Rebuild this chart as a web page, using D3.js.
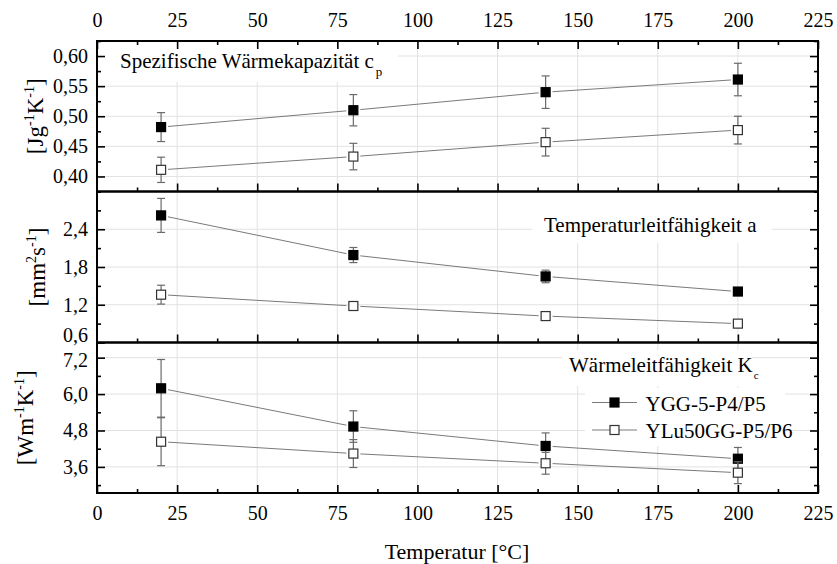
<!DOCTYPE html>
<html>
<head>
<meta charset="utf-8">
<script src="https://cdn.jsdelivr.net/npm/d3@7"></script>
<style>
  html, body { margin: 0; padding: 0; background: #fff; }
  svg { display: block; }
</style>
</head>
<body>
<svg id="chart" width="837" height="564"></svg>
<script>
// ---------------- data ----------------
const temperatures = [20, 80, 140, 200];
const seriesNames = ["YGG-5-P4/P5", "YLu50GG-P5/P6"];

const cpYGG = [0.482, 0.510, 0.540, 0.561];
const cpYGGErr = [0.024, 0.026, 0.027, 0.027];
const cpYLu = [0.411, 0.433, 0.457, 0.477];
const cpYLuErr = [0.021, 0.022, 0.023, 0.023];

const aYGG = [2.62, 1.99, 1.65, 1.41];
const aYGGErr = [0.27, 0.12, 0.10, 0.03];
const aYLu = [1.36, 1.18, 1.02, 0.90];
const aYLuErr = [0.15, 0.03, 0.03, 0.04];

const kYGG = [6.19, 4.93, 4.29, 3.87];
const kYGGErr = [0.95, 0.52, 0.43, 0.37];
const kYLu = [4.43, 4.04, 3.72, 3.41];
const kYLuErr = [0.79, 0.46, 0.36, 0.36];

const xTicks = [0, 25, 50, 75, 100, 125, 150, 175, 200, 225];
const cpTicks = [0.40, 0.45, 0.50, 0.55, 0.60];
const cpMinor = [0.375, 0.425, 0.475, 0.525, 0.575, 0.625];
const aTicks = [0.6, 1.2, 1.8, 2.4];
const aMinor = [0.9, 1.5, 2.1, 2.7, 3.0];
const kTicks = [3.6, 4.8, 6.0, 7.2];
const kMinor = [3.0, 4.2, 5.4, 6.6];

// ---------------- layout ----------------
const FONT = '"Liberation Serif"';
const svg = d3.select("#chart");
const left = 97, right = 818;
const panels = [
  { top: 41, bottom: 191.5, domain: [0.375, 0.625], ticks: cpTicks, minor: cpMinor, fmt: d3.format(".2f"),
    s1: cpYGG, e1: cpYGGErr, s2: cpYLu, e2: cpYLuErr, titleX: 43,
    title: [["[Jg", 0], ["-1", 1], ["K", 0], ["-1", 1], ["]", 0]] },
  { top: 191.5, bottom: 342.5, domain: [0.6, 3.0], ticks: aTicks, minor: aMinor, fmt: d3.format(".1f"),
    s1: aYGG, e1: aYGGErr, s2: aYLu, e2: aYLuErr, titleX: 45,
    title: [["[mm", 0], ["2", 1], ["s", 0], ["-1", 1], ["]", 0]] },
  { top: 342.5, bottom: 493, domain: [2.74, 7.7], ticks: kTicks, minor: kMinor, fmt: d3.format(".1f"),
    s1: kYGG, e1: kYGGErr, s2: kYLu, e2: kYLuErr, titleX: 33,
    title: [["[Wm", 0], ["-1", 1], ["K", 0], ["-1", 1], ["]", 0]] }
];

const x = d3.scaleLinear().domain([0, 225]).range([left, right]);
const comma = f => (d => f(d).replace(".", ","));

const gridColor = "#e2e2e2";
const lineColor = "#7a7a7a";
const errColor = "#6a6a6a";

// vertical grid
svg.append("g").selectAll("line").data(xTicks.filter(d => d > 0 && d < 225)).join("line")
  .attr("x1", d => x(d)).attr("x2", d => x(d))
  .attr("y1", panels[0].top).attr("y2", panels[2].bottom)
  .attr("stroke", gridColor).attr("stroke-width", 1);

panels.forEach(p => {
  p.y = d3.scaleLinear().domain(p.domain).range([p.bottom, p.top]);
  svg.append("g").selectAll("line").data(p.ticks.filter(d => p.y(d) > p.top + 1 && p.y(d) < p.bottom - 1)).join("line")
    .attr("x1", left).attr("x2", right)
    .attr("y1", d => p.y(d)).attr("y2", d => p.y(d))
    .attr("stroke", gridColor).attr("stroke-width", 1);
});

// white boxes behind annotations / legend
const boxes = [
  [98, 42, 300, 40],
  [532, 193, 240, 50],
  [562, 350, 190, 36],
  [585, 388, 200, 58]
];
svg.append("g").selectAll("rect").data(boxes).join("rect")
  .attr("x", d => d[0]).attr("y", d => d[1]).attr("width", d => d[2]).attr("height", d => d[3])
  .attr("fill", "#fff");

// axes
function styleAxis(g) {
  g.attr("font-family", null);
  g.select(".domain").remove();
  g.selectAll(".tick line").attr("stroke", "#000").attr("stroke-width", 1.6);
  g.selectAll(".tick text").attr("font-size", 20).attr("fill", "#000");
}

panels.forEach((p, i) => {
  const la = svg.append("g").attr("transform", `translate(${left},0)`)
    .call(d3.axisLeft(p.y).tickValues(p.ticks).tickSize(-8).tickPadding(9).tickFormat(comma(p.fmt)))
    .call(styleAxis);
  la.selectAll(".tick text").attr("dy", d => (i === 1 && d === 0.6) ? "-0.05em" : (i === 2 && d === 7.2 ? "0.42em" : "0.32em"));
  svg.append("g").attr("transform", `translate(${left},0)`)
    .call(d3.axisLeft(p.y).tickValues(p.minor).tickSize(-4).tickFormat(""))
    .call(styleAxis);
  svg.append("g").attr("transform", `translate(${right},0)`)
    .call(d3.axisRight(p.y).tickValues(p.ticks).tickSize(-8).tickFormat(""))
    .call(styleAxis);
  svg.append("g").attr("transform", `translate(${right},0)`)
    .call(d3.axisRight(p.y).tickValues(p.minor).tickSize(-4).tickFormat(""))
    .call(styleAxis);
  const majX = xTicks.filter(d => d > 0 && d < 225);
  const minX = d3.range(12.5, 225, 25);
  svg.append("g").attr("transform", `translate(0,${p.bottom})`)
    .call(d3.axisBottom(x).tickValues(i === 2 ? xTicks : majX).tickSize(-8).tickPadding(13)
      .tickFormat(i === 2 ? d3.format("d") : ""))
    .call(styleAxis);
  svg.append("g").attr("transform", `translate(0,${p.bottom})`)
    .call(d3.axisBottom(x).tickValues(minX).tickSize(-4).tickFormat(""))
    .call(styleAxis);
  if (i === 0) {
    svg.append("g").attr("transform", `translate(0,${p.top})`)
      .call(d3.axisTop(x).tickValues(xTicks).tickSize(-8).tickPadding(14).tickFormat(d3.format("d")))
      .call(styleAxis);
    svg.append("g").attr("transform", `translate(0,${p.top})`)
      .call(d3.axisTop(x).tickValues(minX).tickSize(-4).tickFormat(""))
      .call(styleAxis);
  }
  svg.append("rect").attr("x", left).attr("y", p.top).attr("width", right - left).attr("height", p.bottom - p.top)
    .attr("fill", "none").attr("stroke", "#000").attr("stroke-width", 2);

  const t = svg.append("text")
    .attr("transform", `translate(${p.titleX},${(p.top + p.bottom) / 2}) rotate(-90)`)
    .attr("text-anchor", "middle").attr("font-size", 23);
  let prevSup = 0;
  p.title.forEach(([str, sup]) => {
    const dy = sup === prevSup ? 0 : (sup ? -9 : 9);
    t.append("tspan").attr("dy", dy).attr("font-size", sup ? 14 : 23).text(str);
    prevSup = sup;
  });

  const drawSeries = (vals, errs, filled) => {
    const pts = temperatures.map((d, j) => [x(d), p.y(vals[j])]);
    const g = svg.append("g");
    for (let j = 0; j < pts.length - 1; j++) {
      const [x1, y1] = pts[j], [x2, y2] = pts[j + 1];
      const len = Math.hypot(x2 - x1, y2 - y1), gap = 7;
      const ux = (x2 - x1) / len, uy = (y2 - y1) / len;
      g.append("line")
        .attr("x1", x1 + ux * gap).attr("y1", y1 + uy * gap)
        .attr("x2", x2 - ux * gap).attr("y2", y2 - uy * gap)
        .attr("stroke", lineColor).attr("stroke-width", 1);
    }
    temperatures.forEach((d, j) => {
      const cx = x(d), yt = p.y(vals[j] + errs[j]), yb = p.y(vals[j] - errs[j]);
      g.append("line").attr("x1", cx).attr("x2", cx).attr("y1", yt).attr("y2", yb)
        .attr("stroke", errColor).attr("stroke-width", 1.2);
      [yt, yb].forEach(yy => g.append("line").attr("x1", cx - 4).attr("x2", cx + 4).attr("y1", yy).attr("y2", yy)
        .attr("stroke", errColor).attr("stroke-width", 1.2));
    });
    g.selectAll("rect").data(pts).join("rect")
      .attr("x", d => d[0] - 4.5).attr("y", d => d[1] - 4.5).attr("width", 9).attr("height", 9)
      .attr("fill", filled ? "#000" : "#fff").attr("stroke", filled ? "#000" : "#333").attr("stroke-width", 1.2);
  };
  drawSeries(p.s1, p.e1, true);
  drawSeries(p.s2, p.e2, false);
});

// annotations
const ann1 = svg.append("text").attr("x", 120).attr("y", 68).attr("font-size", 21);
ann1.append("tspan").text("Spezifische Wärmekapazität c");
ann1.append("tspan").attr("dy", 8).attr("dx", 2).attr("font-size", 13).text("p");

svg.append("text").attr("x", 544).attr("y", 232).attr("font-size", 21).text("Temperaturleitfähigkeit a");

const ann3 = svg.append("text").attr("x", 569).attr("y", 371.5).attr("font-size", 21);
ann3.append("tspan").text("Wärmeleitfähigkeit K");
ann3.append("tspan").attr("dy", 7).attr("dx", 1).attr("font-size", 11).text("c");

// legend
const legY = [402.5, 430];
const legend = svg.append("g");
seriesNames.forEach((name, i) => {
  legend.append("line").attr("x1", 592).attr("x2", 637).attr("y1", legY[i]).attr("y2", legY[i])
    .attr("stroke", lineColor).attr("stroke-width", 1);
  legend.append("rect").attr("x", 614.5 - 4.5).attr("y", legY[i] - 4.5).attr("width", 9).attr("height", 9)
    .attr("fill", i === 0 ? "#000" : "#fff").attr("stroke", i === 0 ? "#000" : "#333").attr("stroke-width", 1.2);
  legend.append("text").attr("x", 645.5).attr("y", legY[i] + 8).attr("font-size", 21).text(name);
});

svg.append("text").attr("x", 457).attr("y", 559).attr("text-anchor", "middle").attr("font-size", 22)
  .text("Temperatur [°C]");

// apply serif font inline on every text element
svg.selectAll("text").style("font-family", FONT).style("fill", "#000");
</script>
</body>
</html>
